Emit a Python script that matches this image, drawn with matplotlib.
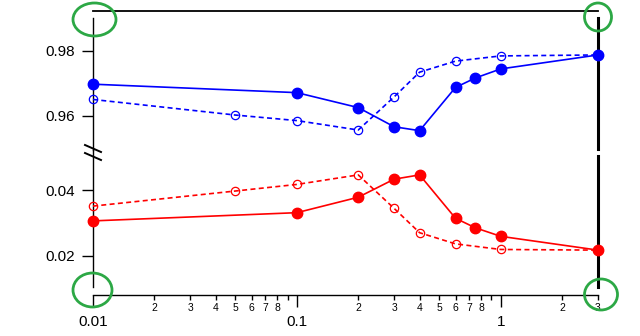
import numpy as np
import matplotlib
matplotlib.use('Agg')
import matplotlib.pyplot as plt
from matplotlib.ticker import FixedLocator, FuncFormatter, NullFormatter
from matplotlib.patches import Ellipse
from matplotlib.lines import Line2D

plt.rcParams['font.family'] = ['Liberation Sans', 'DejaVu Sans']

# dados
x_cheio = [0.01, 0.1, 0.2, 0.3, 0.4, 0.6, 0.75, 1.0, 3.0]
azul_cheio = [0.9697, 0.9671, 0.9625, 0.9566, 0.9554, 0.9687, 0.9716, 0.9744, 0.9787]
verm_cheio = [0.0306, 0.0331, 0.0378, 0.0433, 0.0446, 0.0314, 0.0285, 0.0259, 0.0217]

x_vazio = [0.01, 0.05, 0.1, 0.2, 0.3, 0.4, 0.6, 1.0, 3.0]
azul_vazio = [0.9650, 0.9602, 0.9585, 0.9556, 0.9658, 0.9734, 0.9768, 0.9784, 0.9787]
verm_vazio = [0.0351, 0.0397, 0.0417, 0.0446, 0.0344, 0.0270, 0.0236, 0.0219, 0.0217]

yticks_cima = [0.96, 0.98]
yticks_baixo = [0.02, 0.04]

W, H = 640, 336
fig = plt.figure(figsize=(W / 100, H / 100), dpi=100)

def px(x0, y0, x1, y1):
    # retangulo em pixels -> fracao da figura
    return [x0 / W, 1 - y1 / H, (x1 - x0) / W, (y1 - y0) / H]

ax1 = fig.add_axes(px(93, 11, 598, 150))
ax2 = fig.add_axes(px(93, 150, 598, 295))

for ax in (ax1, ax2):
    ax.set_xscale('log')
    ax.set_xlim(0.01, 3)
    ax.set_facecolor('none')
    ax.tick_params(axis='y', direction='out', length=8, width=1, pad=5,
                   labelsize=11, right=False)
    ax.spines['left'].set_linewidth(1)
    ax.spines['right'].set_linewidth(2.2)

ax1.set_ylim(0.94945, 0.99222)
ax2.set_ylim(0.00804, 0.05218)
ax1.set_yticks(yticks_cima)
ax2.set_yticks(yticks_baixo)
ax1.yaxis.set_major_formatter(FuncFormatter(lambda v, p: '%.2f' % v))
ax2.yaxis.set_major_formatter(FuncFormatter(lambda v, p: '%.2f' % v))

ax1.spines['bottom'].set_visible(False)
ax1.spines['top'].set_linewidth(1.3)
ax1.tick_params(axis='x', which='both', bottom=False, top=False,
                labelbottom=False)
ax1.spines['left'].set_bounds(0.94945, 0.99006)
ax1.spines['right'].set_bounds(0.94975, 0.99006)

ax2.spines['top'].set_visible(False)
ax2.spines['bottom'].set_linewidth(1)
ax2.spines['left'].set_bounds(0.01047, 0.05218)
ax2.spines['right'].set_bounds(0.01047, 0.05035)

# eixo x: rotulos nos menores tambem
maiores = [0.01, 0.1, 1]
menores = [d * m for d in (0.01, 0.1) for m in range(2, 10)] + [2, 3]
ax2.xaxis.set_major_locator(FixedLocator(maiores))
ax2.xaxis.set_minor_locator(FixedLocator(menores))
ax2.xaxis.set_major_formatter(FuncFormatter(lambda v, p: '%g' % v))

def fmt_menor(v, p):
    d = int(round(v / 10 ** np.floor(np.log10(v) + 1e-9)))
    return '' if d == 9 else str(d)

ax2.xaxis.set_minor_formatter(FuncFormatter(fmt_menor))
ax2.tick_params(axis='x', which='major', direction='out', length=8.6, width=1,
                pad=6, labelsize=11, top=False)
ax2.tick_params(axis='x', which='minor', direction='out', length=3.6, width=1,
                pad=2, labelsize=7.5, top=False)

# series
ax1.plot(x_cheio, azul_cheio, '-o', color='blue', lw=1.2, ms=7.5, clip_on=False, zorder=5)
ax1.plot(x_vazio, azul_vazio, '--o', color='blue', lw=1.2, ms=6, mfc='none',
         mew=0.9, dashes=(3, 2), clip_on=False, zorder=4)
ax2.plot(x_cheio, verm_cheio, '-o', color='red', lw=1.2, ms=7.5, clip_on=False, zorder=5)
ax2.plot(x_vazio, verm_vazio, '--o', color='red', lw=1.2, ms=6, mfc='none',
         mew=0.9, dashes=(3, 2), clip_on=False, zorder=4)

# marcas de quebra
for y0 in (145, 153):
    fig.add_artist(Line2D([85 / W, 101 / W], [1 - y0 / H, 1 - (y0 + 7) / H],
                          color='black', lw=1.4, transform=fig.transFigure))

# elipses verdes nos cantos
for cx, cy, w, h in [(94.5, 19.5, 43, 33), (598, 17, 27, 28),
                     (92.5, 290, 39, 34), (601, 294.5, 33, 31)]:
    fig.add_artist(Ellipse((cx / W, 1 - cy / H), w / W, h / H, fill=False,
                           edgecolor='#2ca845', lw=2, transform=fig.transFigure,
                           zorder=10))

fig.savefig('out.png', dpi=100)
